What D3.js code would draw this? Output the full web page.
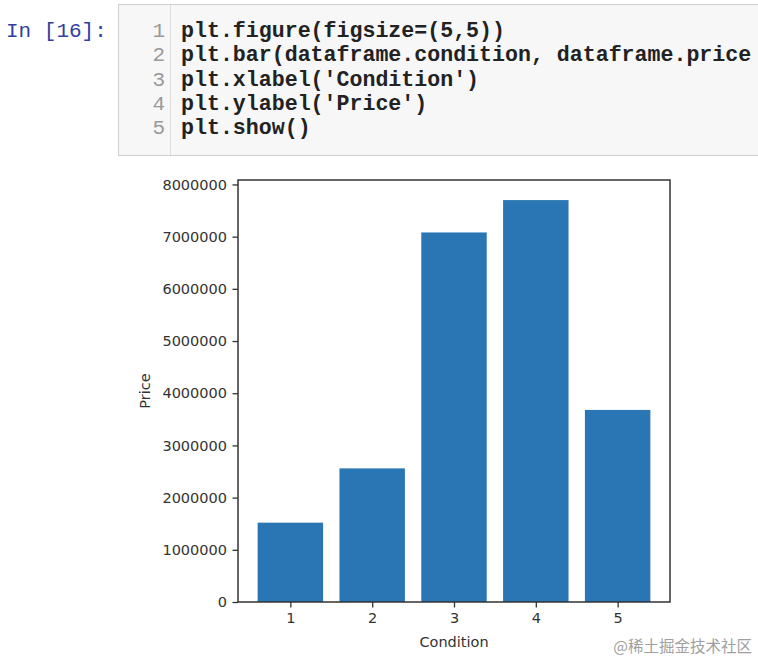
<!DOCTYPE html>
<html>
<head>
<meta charset="utf-8">
<script src="https://cdn.jsdelivr.net/npm/d3@7"></script>
<style>
  html, body { margin: 0; padding: 0; background: #fff; }
  svg { display: block; }
</style>
</head>
<body>
<svg id="chart" width="758" height="661"></svg>
<script>
// ---- data ----
const categories = [1, 2, 3, 4, 5];
const prices = [1520000, 2560000, 7080000, 7700000, 3680000];
const yTicks = [0, 1000000, 2000000, 3000000, 4000000, 5000000, 6000000, 7000000, 8000000];
const xLabel = "Condition";
const yLabel = "Price";
const promptText = "In [16]:";
const codeLines = [
  "plt.figure(figsize=(5,5))",
  "plt.bar(dataframe.condition, dataframe.price",
  "plt.xlabel('Condition')",
  "plt.ylabel('Price')",
  "plt.show()"
];
const watermark = "@稀土掘金技术社区";

const svg = d3.select("#chart");

// ---- notebook code cell ----
const cell = svg.append("g");
cell.append("rect").attr("x", 118.5).attr("y", 4.5).attr("width", 660).attr("height", 151)
  .attr("fill", "#f7f7f7").attr("stroke", "#cfcfcf");
cell.append("line").attr("x1", 170.5).attr("x2", 170.5).attr("y1", 5).attr("y2", 155)
  .attr("stroke", "#dddddd");
cell.append("text").attr("x", 6).attr("y", 37)
  .attr("font-family", "'Liberation Mono', 'DejaVu Sans Mono', monospace")
  .attr("font-size", 21).attr("fill", "#303f9f").text(promptText);
const lineY = d3.scaleLinear().domain([0, 1]).range([37, 61.3]);
codeLines.forEach((t, i) => {
  cell.append("text").attr("x", 165).attr("y", lineY(i)).attr("text-anchor", "end")
    .attr("font-family", "'Liberation Mono', monospace").attr("font-size", 21)
    .attr("fill", "#999").text(i + 1);
  cell.append("text").attr("x", 181).attr("y", lineY(i))
    .attr("font-family", "'Liberation Mono', monospace").attr("font-size", 21.6)
    .attr("font-weight", "bold").attr("fill", "#222").text(t);
});

// ---- bar chart ----
const pLeft = 238, pRight = 670, pTop = 180, pBottom = 602;
const x = d3.scaleLinear().domain([0.36, 5.64]).range([pLeft, pRight]);
const y = d3.scaleLinear().domain([0, d3.max(prices) * 1.05]).range([pBottom, pTop]);
const barW = x(0.8) - x(0);

const g = svg.append("g");
g.selectAll("rect.bar").data(categories).enter().append("rect")
  .attr("class", "bar")
  .attr("x", (d) => x(d) - barW / 2)
  .attr("width", barW)
  .attr("y", (d, i) => y(prices[i]))
  .attr("height", (d, i) => y(0) - y(prices[i]))
  .attr("fill", "#2a75b3");

const font = "'DejaVu Sans', sans-serif";
const yAxis = d3.axisLeft(y).tickValues(yTicks).tickFormat(d3.format("d")).tickSize(5.5).tickPadding(5.5);
const xAxis = d3.axisBottom(x).tickValues(categories).tickFormat(d3.format("d")).tickSize(5.5).tickPadding(5.5);

const ya = g.append("g").attr("transform", `translate(${pLeft},0)`).call(yAxis);
const xa = g.append("g").attr("transform", `translate(0,${pBottom})`).call(xAxis);
[ya, xa].forEach((a) => {
  a.select(".domain").remove();
  a.selectAll(".tick line").attr("stroke", "#333").attr("stroke-width", 1.3);
  a.selectAll(".tick text").attr("font-family", font).attr("font-size", 14.5).attr("fill", "#333");
});

// frame
g.append("rect").attr("x", pLeft).attr("y", pTop).attr("width", pRight - pLeft).attr("height", pBottom - pTop)
  .attr("fill", "none").attr("stroke", "#333").attr("stroke-width", 1.5);

// axis labels
g.append("text").attr("x", (pLeft + pRight) / 2).attr("y", 647).attr("text-anchor", "middle")
  .attr("font-family", font).attr("font-size", 14.5).attr("fill", "#333").text(xLabel);
g.append("text").attr("transform", `translate(150,${(pTop + pBottom) / 2}) rotate(-90)`)
  .attr("text-anchor", "middle").attr("font-family", font).attr("font-size", 14.5)
  .attr("fill", "#333").text(yLabel);

// watermark
svg.append("text").attr("x", 752).attr("y", 652).attr("text-anchor", "end")
  .attr("font-family", "'Noto Sans CJK SC', sans-serif").attr("font-size", 15.5)
  .attr("fill", "#a0a0a0").text(watermark);
</script>
</body>
</html>
